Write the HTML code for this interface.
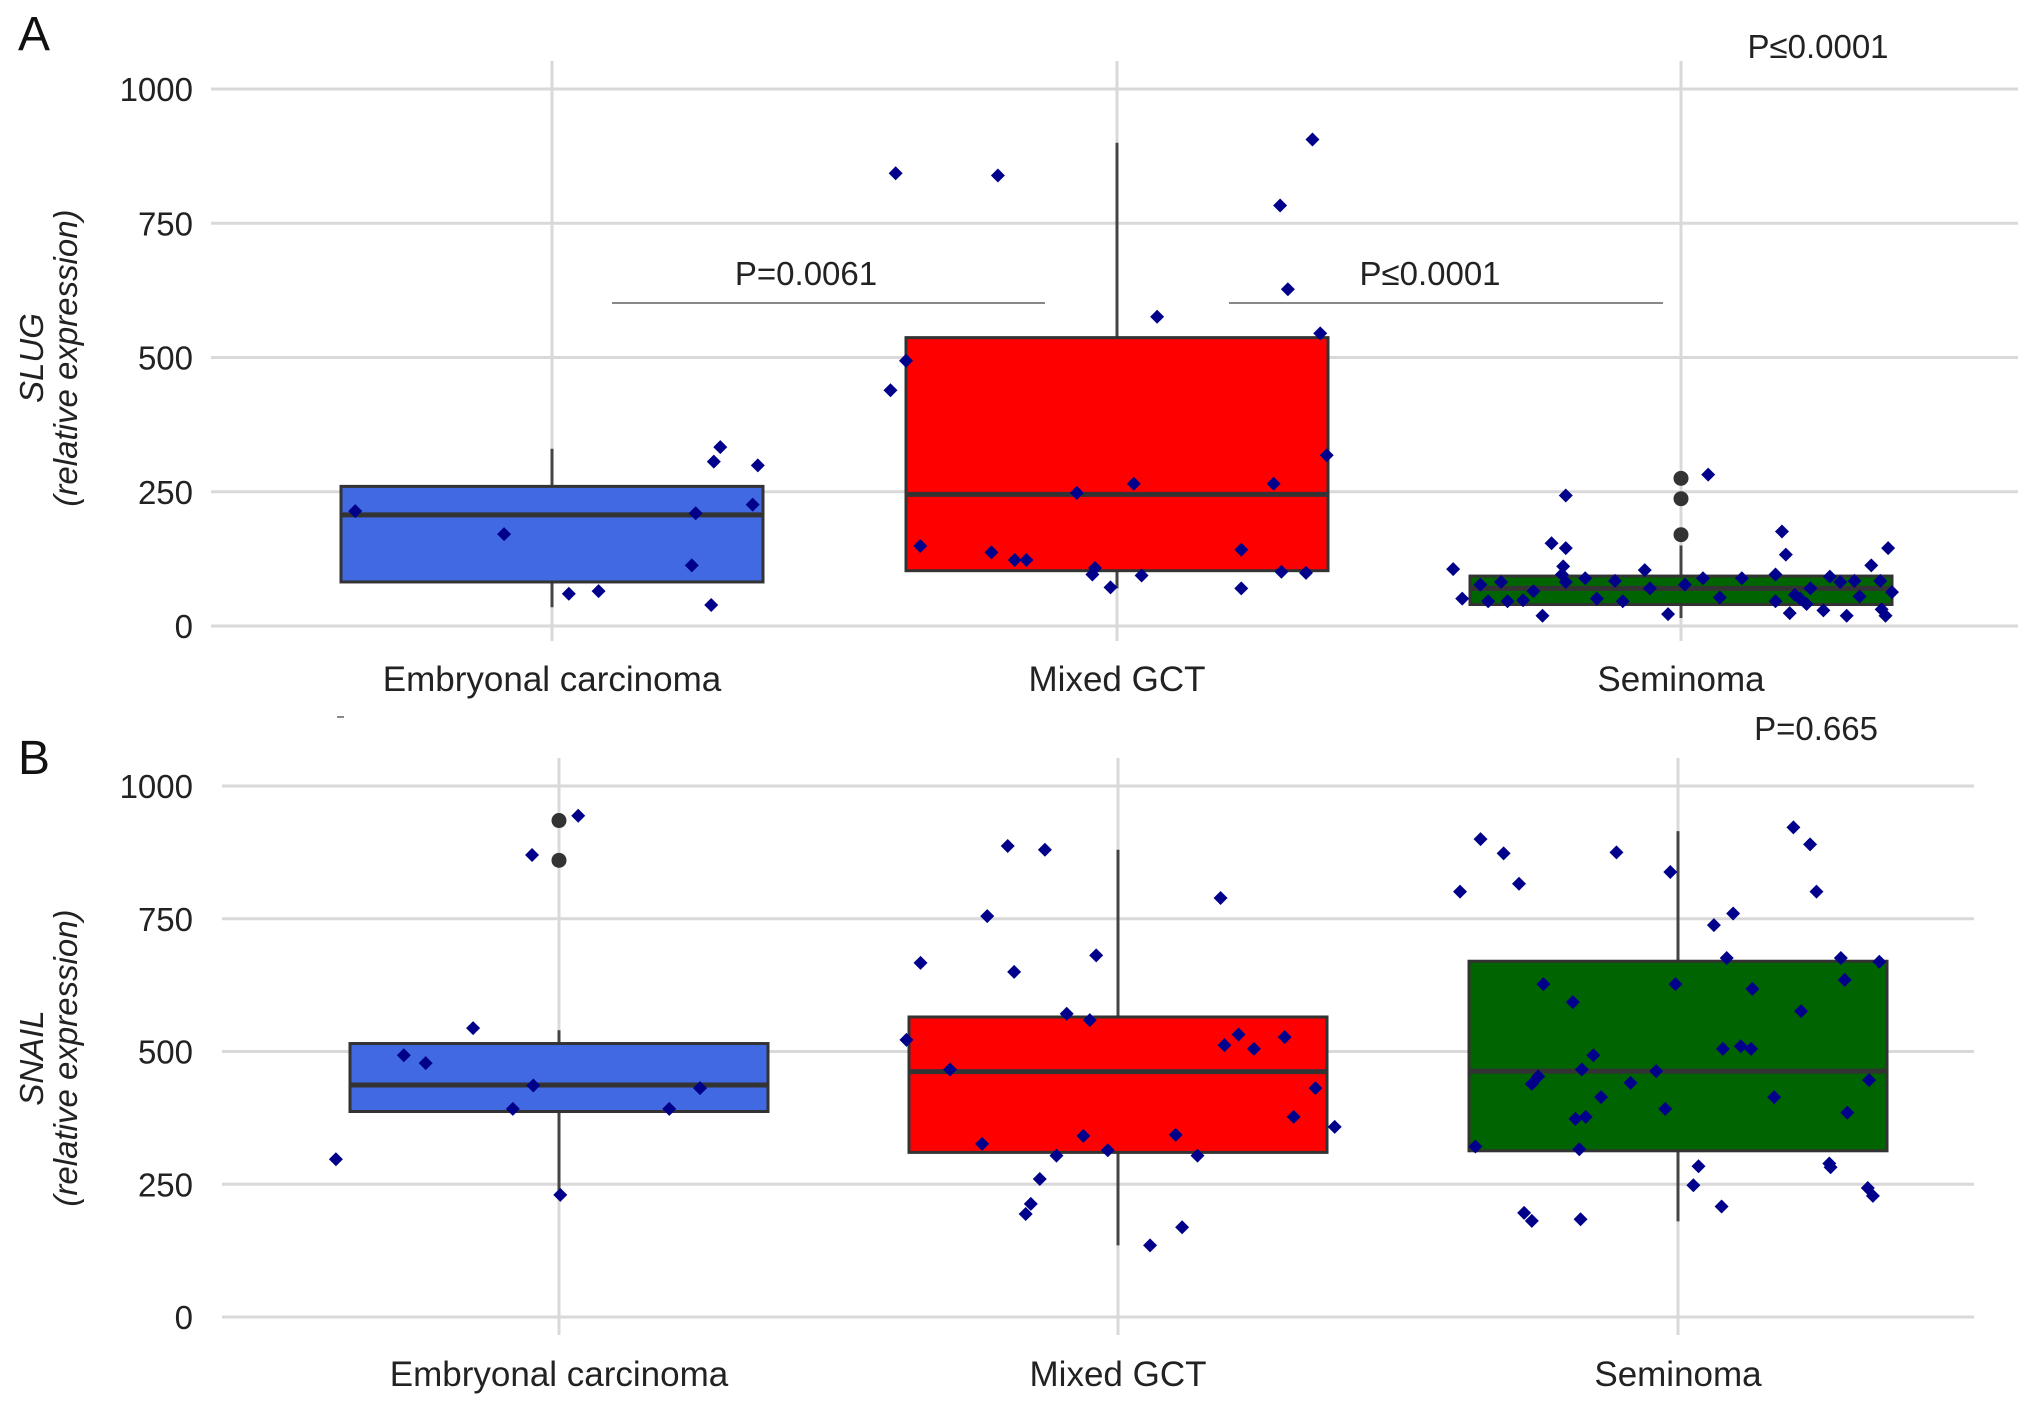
<!DOCTYPE html>
<html><head><meta charset="utf-8">
<style>
html,body{margin:0;padding:0;background:#fff;}
svg{display:block;font-family:"Liberation Sans",Arial,sans-serif;}
</style></head>
<body>
<svg id="chart" width="2032" height="1407" viewBox="0 0 2032 1407" xmlns="http://www.w3.org/2000/svg"></svg>
<script>
// ---- data ----
const categories = ["Embryonal carcinoma", "Mixed GCT", "Seminoma"];
const yTicks = [0, 250, 500, 750, 1000];
const boxColors = ["#4169e1", "#ff0000", "#006400"];
// SLUG boxes: [lowWhisker, q1, median, q3, highWhisker]
const slugBoxes = [[35, 82, 207, 260, 330], [70, 103, 245, 537, 900], [15, 40, 70, 93, 150]];
const slugOutliers = [[], [], [170, 237, 275]];
const slugValsEC = [214,171,60,65,113,210,39,306,333,226,299];
const slugJitEC = [-152,-37,13,36,108,111,123,125,130,155,159];
const slugValsMix = [843,839,906,783,627,576,545,439,494,318,265,248,265,149,137,123,123,96,108,72,94,142,70,101,99];
const slugJitMix = [-171,-92,151,126,132,31,157,-175,-163,162,13,-31,121,-152,-97,-79,-70,-19,-17,-5,19,96,96,127,146];
const slugValsSem = [243,282,106,51,77,46,82,46,48,65,19,154,96,111,145,82,89,51,84,46,104,70,22,77,89,53,89,46,96,176,133,24,58,51,41,70,29,92,82,19,84,55,113,84,31,19,145,63];
const slugJitSem = [-89,21,-176,-169,-155,-149,-139,-134,-122,-114,-107,-100,-92,-91,-89,-89,-74,-65,-51,-45,-28,-24,-10,3,17,30,47,73,73,78,81,84,88,92,97,100,110,115,123,128,134,138,147,154,155,158,160,163];
// SNAIL boxes
const snailBoxes = [[230, 387, 437, 515, 540], [135, 310, 462, 565, 880], [180, 313, 463, 670, 915]];
const snailOutliers = [[860, 935], [], []];
const snailValsEC = [297,493,478,544,392,870,436,230,944,392,431];
const snailJitEC = [-174,-121,-104,-67,-36,-21,-20,1,15,86,110];
const snailValsMix = [522,667,466,326,755,887,650,194,213,260,880,304,571,341,559,681,314,135,343,169,304,789,512,532,505,527,377,431,358];
const snailJitMix = [-165,-154,-131,-106,-102,-86,-81,-72,-68,-61,-57,-48,-40,-27,-22,-17,-8,25,45,50,62,80,83,94,106,130,137,154,169];
const snailValsSem = [801,321,900,873,816,196,181,439,453,627,593,373,316,184,466,377,493,414,875,441,463,392,838,627,248,284,738,208,676,760,505,510,505,618,414,922,576,890,801,289,282,676,635,385,243,446,228,669];
const snailJitSem = [-170,-158,-154,-136,-124,-120,-114,-114,-109,-105,-82,-80,-77,-76,-75,-72,-66,-60,-48,-37,-17,-10,-6,-2,12,16,28,34,38,43,35,49,57,58,75,90,96,103,108,118,119,127,130,132,148,149,152,157];

const svg = document.getElementById('chart');
const NS = 'http://www.w3.org/2000/svg';
function mk(tag, attrs, parent){const e=document.createElementNS(NS,tag);for(const k in attrs)e.setAttribute(k,attrs[k]);(parent||svg).appendChild(e);return e;}

function panel(cfg){
  const g = mk('g',{});
  
  
  const y = v => cfg.y0 - (cfg.y0 - cfg.y1000) * v / 1000;
  const x = i => cfg.cx[i];
  yTicks.forEach(t => {
    const l = mk('line',{x1:cfg.gx0,x2:cfg.gx1,y1:y(t),y2:y(t),stroke:'#d9d9d9','stroke-width':3},g);
    
    
    const tx = mk('text',{x:193,y:y(t)+12,'text-anchor':'end','font-size':33,fill:'#222'},g);
    tx.textContent = t;
    
    
  });
  categories.forEach((c,i) => {
    const l = mk('line',{x1:x(i),x2:x(i),y1:cfg.vg0,y2:cfg.vg1,stroke:'#d9d9d9','stroke-width':3},g);
    
    
    const tx = mk('text',{x:x(i),y:cfg.labY,'text-anchor':'middle','font-size':35,fill:'#222'},g);
    tx.textContent = c;
    
    
  });
  cfg.boxes.forEach((b,i) => {
    const bg = mk('g',{},g);
    
    
    mk('line',{x1:x(i),x2:x(i),y1:y(b[0]),y2:y(b[4]),stroke:'#444','stroke-width':3},bg);
    const hw = cfg.halfBox;
    mk('rect',{x:x(i)-hw,y:y(b[3]),width:2*hw,height:y(b[1])-y(b[3]),fill:boxColors[i],stroke:'#333','stroke-width':3},bg);
    mk('line',{x1:x(i)-hw,x2:x(i)+hw,y1:y(b[2]),y2:y(b[2]),stroke:'#333','stroke-width':5},bg);
    cfg.outliers[i].forEach(v => {
      const o = mk('circle',{cx:x(i),cy:y(v),r:7.5,fill:'#333'},bg);
      
      
    });
  });
  cfg.pts.forEach((pair,i) => {
    const vals = pair[0], jit = pair[1];
    vals.forEach((v,k) => {
      const px = x(i) + jit[k] / 163 * cfg.halfBox, py = y(v), r = 7;
      const p = mk('polygon',{points:`${px},${py-r} ${px+r},${py} ${px},${py+r} ${px-r},${py}`,fill:'#00008b'},g);
      
      
    });
  });
  const t1 = mk('text',{transform:`translate(${cfg.titleX},${cfg.titleY}) rotate(-90)`,'text-anchor':'middle','font-size':33,'font-style':'italic',fill:'#222'},g);
  t1.textContent = cfg.gene;
  
  
  const t2 = mk('text',{transform:`translate(${cfg.titleX+34},${cfg.titleY}) rotate(-90)`,'text-anchor':'middle','font-size':33,'font-style':'italic',fill:'#222'},g);
  t2.textContent = '(relative expression)';
  
  
  const L = mk('text',{x:18,y:cfg.letterY,'font-size':48,fill:'#111'},g);
  L.textContent = cfg.letter;
  
  
  return y;
}

panel({name:'panel-a-slug',gene:'SLUG',letter:'A',letterY:50,y0:626,y1000:89,gx0:211,gx1:2018,vg0:61,vg1:641,cx:[552,1117,1681],halfBox:211,labY:691,boxes:slugBoxes,outliers:slugOutliers,pts:[[slugValsEC,slugJitEC],[slugValsMix,slugJitMix],[slugValsSem,slugJitSem]],titleX:43,titleY:358});
panel({name:'panel-b-snail',gene:'SNAIL',letter:'B',letterY:774,y0:1317,y1000:786,gx0:222,gx1:1974,vg0:758,vg1:1335,cx:[559,1118,1678],halfBox:209,labY:1386,boxes:snailBoxes,outliers:snailOutliers,pts:[[snailValsEC,snailJitEC],[snailValsMix,snailJitMix],[snailValsSem,snailJitSem]],titleX:43,titleY:1058});

function ann(txt,x,y,name){const t=mk('text',{x:x,y:y,'text-anchor':'middle','font-size':33,fill:'#222'});t.textContent=txt;}
function br(x1,x2,yy,name){const l=mk('line',{x1:x1,x2:x2,y1:yy,y2:yy,stroke:'#888','stroke-width':2});}
br(612,1045,303,'comparison-line-ec-mixed');
ann('P=0.0061',806,285,'p-value-ec-mixed');
br(1229,1663,303,'comparison-line-mixed-seminoma');
ann('P\u22640.0001',1430,285,'p-value-mixed-seminoma');
ann('P\u22640.0001',1818,58,'p-value-overall-a');
ann('P=0.665',1816,740,'p-value-overall-b');
const dash = mk('line',{x1:337,x2:344,y1:717,y2:717,stroke:'#888','stroke-width':2});


</script>
</body></html>
